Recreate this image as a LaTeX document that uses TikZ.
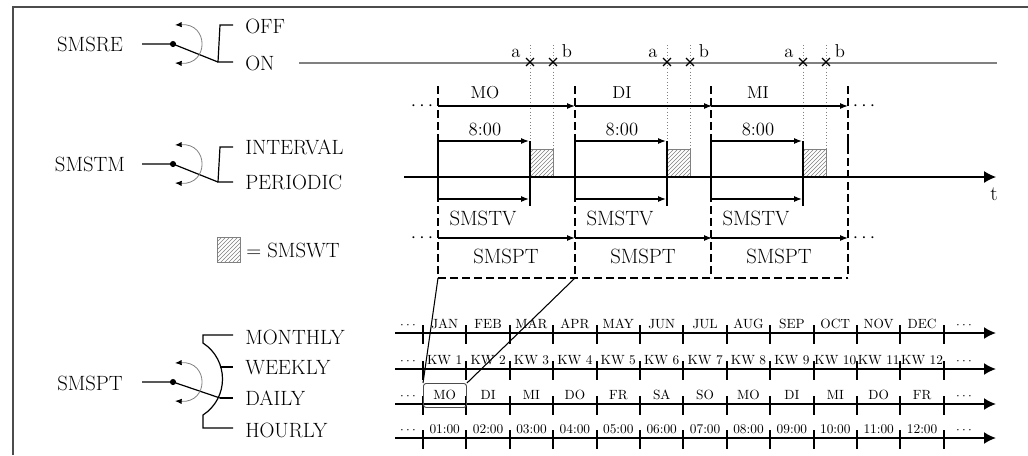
\documentclass[tikz,border=0pt]{standalone}
\usepackage{fontspec}
\usetikzlibrary{arrows.meta,patterns,shapes.misc}
\newcommand\scalerow[3]{% #1 name, #2 y, #3 labels
  \coordinate (#1a) at (395,#2);
  \coordinate (#1b) at (996,#2);
  \draw[rowline] (#1a) -- (#1b);
  \foreach \i in {0,...,12} \draw[tickline] (423+43.4*\i,#2-8) -- (423+43.4*\i,#2+11);
  \foreach \l [count=\i from 0] in {#3} \node[small] (#1l\i) at (444.7+43.4*\i,#2-5) {\l};
  \node[small] (#1dl) at (408,#2-5) {$\cdots$};
  \node[small] (#1dr) at (964,#2-5) {$\cdots$};
}
\begin{document}
\begin{tikzpicture}[x=0.75pt,y=-0.75pt,
  lab/.style={font=\fontsize{15.5}{18}\selectfont, inner sep=0pt},
  midlab/.style={font=\fontsize{13}{15}\selectfont, inner sep=0pt},
  timelab/.style={font=\fontsize{14}{16}\selectfont, inner sep=0pt},
  small/.style={font=\fontsize{10}{11}\selectfont, inner sep=0pt, anchor=base},
  thinarrow/.style={line width=0.9pt, -{Latex[length=6pt,width=4.5pt]}},
  bigarrow/.style={line width=0.8pt, -{Latex[length=9pt,width=9pt]}},
  dashline/.style={line width=1.1pt, dash pattern=on 6pt off 3pt},
  hatchbox/.style={draw=gray, line width=0.4pt, pattern=north east lines, pattern color=gray},
  xmark/.style={draw, cross out, line width=0.9pt, minimum size=5pt, inner sep=0pt},
  guide/.style={gray, dotted, line width=0.5pt},
  tickline/.style={line width=1.4pt},
  rowline/.style={line width=1.4pt, -{Latex[length=9pt,width=9pt]}},
  sw/.style={line width=0.9pt},
  swarc/.style={gray, line width=0.6pt, {Latex[black,length=5pt,width=4pt]}-{Latex[black,length=5pt,width=4pt]}},
]
\useasboundingbox (0,0) rectangle (1028,455);
% frame
\coordinate (f0) at (13,455); \coordinate (f1) at (13,7); \coordinate (f2) at (1028,7);
\draw[line width=1.2pt, black!70] (f0) -- (f1) -- (f2);

% ---------- switch 1
\node[lab] (smsre) at (90,44) {SMSRE};
\coordinate (sw1in) at (142,44);
\coordinate (sw1) at (173,44);
\coordinate (sw1out) at (218,62);
\draw[sw] (sw1in) -- (sw1) -- (sw1out);
\fill (sw1) circle (2.3pt);
\draw[swarc] (175,25) .. controls (209,23) and (209,65) .. (175,63);
\draw[sw] (233,25) -- (220,25) -- (sw1out) -- (233,62);
\node[lab, anchor=west] (off) at (245,26) {OFF};
\node[lab, anchor=west] (on) at (245,63) {ON};
\coordinate (onl0) at (299,63); \coordinate (onl1) at (997,63);
\draw[gray, line width=0.8pt] (onl0) -- (onl1);

% ---------- switch 2
\node[lab] (smstm) at (90,164) {SMSTM};
\coordinate (sw2in) at (142,164);
\coordinate (sw2) at (173,164);
\coordinate (sw2out) at (218,182);
\draw[sw] (sw2in) -- (sw2) -- (sw2out);
\fill (sw2) circle (2.3pt);
\draw[swarc] (175,145) .. controls (209,143) and (209,185) .. (175,183);
\draw[sw] (233,147) -- (220,147) -- (sw2out) -- (233,182);
\node[lab, anchor=west] (interval) at (245,147) {INTERVAL};
\node[lab, anchor=west] (periodic) at (245,182) {PERIODIC};

% legend
\draw[hatchbox] (217,237) rectangle (240,262);
\node[lab, anchor=west] (legend) at (246,250) {= SMSWT};

% ---------- switch 3
\node[lab] (smspt) at (90,383) {SMSPT};
\coordinate (sw3in) at (142,382);
\coordinate (sw3) at (173,382);
\coordinate (sw3out) at (220,398);
\draw[sw] (sw3in) -- (sw3) -- (sw3out);
\fill (sw3) circle (2.3pt);
\draw[swarc] (175,363) .. controls (209,361) and (209,403) .. (175,401);
\draw[sw] (233,335) -- (203,335) -- (203,343) .. controls (229,360) and (229,398) .. (203,415) -- (203,428) -- (233,428);
\draw[sw] (220,367) -- (233,367);
\draw[sw] (sw3out) -- (233,398);
\node[lab, anchor=west] (monthly) at (245,337) {MONTHLY};
\node[lab, anchor=west] (weekly) at (245,368) {WEEKLY};
\node[lab, anchor=west] (daily) at (245,398) {DAILY};
\node[lab, anchor=west] (hourly) at (245,430) {HOURLY};

% ---------- timing diagram
\coordinate (ax0) at (404,177); \coordinate (ax1) at (996,177);
\draw[bigarrow] (ax0) -- (ax1);
\node[lab, anchor=base] (tlab) at (994,200) {t};

\foreach \s [count=\k] in {438,575,711,848} {
  \coordinate (vt\k) at (\s,86);
  \coordinate (vb\k) at (\s,278);
  \draw[dashline] (vt\k) -- (vb\k);
}
\draw[dashline] (vb1) -- (vb4);

\foreach \s/\d [count=\k] in {438/MO,575/DI,711/MI} {
  \pgfmathsetmacro\a{\s+92}
  \pgfmathsetmacro\b{\s+115}
  \pgfmathsetmacro\e{\s+137}
  % guides and marks
  \draw[guide] (\a,45) -- (\a,149);
  \draw[guide] (\b,45) -- (\b,149);
  \node[xmark] (xa\k) at (\a,62) {};
  \node[xmark] (xb\k) at (\b,62) {};
  \node[timelab, anchor=base] (la\k) at (\a-14,57) {a};
  \node[timelab, anchor=base] (lb\k) at (\b+14,57) {b};
  % day arrow
  \draw[thinarrow] (\s,106) -- (\e,106);
  \node[midlab] (day\k) at (\s+47,93) {\d};
  % 8:00
  \draw[thinarrow] (\s,141) -- (\a-1,141);
  \node[timelab] (eight\k) at (\s+47,129) {8:00};
  \draw[line width=1pt] (\s,141) -- (\s,199);
  % SMSTV
  \draw[thinarrow] (\s,199) -- (\a-1,199);
  \node[lab] (tv\k) at (\s+45,218) {SMSTV};
  % SMSPT
  \draw[thinarrow] (\s,238) -- (\e,238);
  \node[lab] (pt\k) at (\s+68,256) {SMSPT};
  % hatched window
  \draw[hatchbox] (\a,149) rectangle (\b,177);
  \draw[line width=2.2pt] (\a,141) -- (\a,206);
}
\draw[line width=2.2pt] (438,177) -- (848,177);
\draw[line width=2pt] (848,141) -- (848,148);
\node[lab] (d1) at (422,106) {$\cdots$};
\node[lab] (d2) at (864,106) {$\cdots$};
\node[lab] (d3) at (422,238) {$\cdots$};
\node[lab] (d4) at (864,238) {$\cdots$};

% ---------- scale rows
\scalerow{m}{333}{JAN,FEB,MAR,APR,MAY,JUN,JUL,AUG,SEP,OCT,NOV,DEC}
\scalerow{w}{369}{KW 1,KW 2,KW 3,KW 4,KW 5,KW 6,KW 7,KW 8,KW 9,KW 10,KW 11,KW 12}
\scalerow{d}{404}{MO,DI,MI,DO,FR,SA,SO,MO,DI,MI,DO,FR}
\scalerow{h}{438}{01:00,02:00,03:00,04:00,05:00,06:00,07:00,08:00,09:00,10:00,11:00,12:00}

\node[draw=black!70, line width=0.7pt, rounded corners=2pt, minimum width=32.25pt, minimum height=18pt, anchor=north west, inner sep=0pt] (mobox) at (423,383) {};
\draw[line width=0.8pt] (vb1) -- (mobox.north west);
\draw[line width=0.8pt] (vb2) -- (mobox.north east);
\end{tikzpicture}
\end{document}
